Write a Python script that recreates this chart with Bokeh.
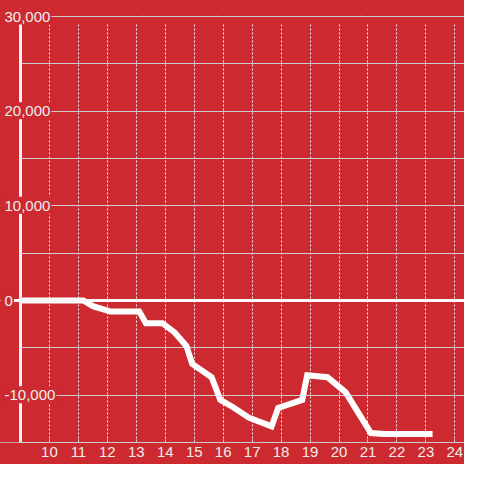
from bokeh.plotting import figure
from bokeh.models import FixedTicker, Grid, Span, Label, Range1d, BoxAnnotation
from bokeh.embed import file_html
from bokeh.resources import INLINE

# data
hours = [9.0, 11.17, 11.5, 12.1, 13.1, 13.33, 13.9, 14.33, 14.73, 14.93, 15.6, 15.9,
         16.33, 16.9, 17.67, 17.9, 18.73, 18.9, 19.6, 20.23, 21.1, 21.57, 23.23]
values = [0, 0, -600, -1150, -1150, -2400, -2400, -3400, -4800, -6700, -8100, -10500,
          -11250, -12400, -13300, -11350, -10500, -7900, -8100, -9700, -14000, -14100, -14100]
x_ticks = list(range(10, 25))
y_label_ticks = [30000, 20000, 10000, 0, -10000]
y_labels = ["30,000", "20,000", "10,000", "0", "-10,000"]
y_grid_ticks = [-15000, -10000, -5000, 0, 5000, 10000, 15000, 20000, 25000]
y_top_tick = 30000
x_min, x_max = 9, 24.333
y_min, y_max = -15000, 30000

RED = "#cc2a30"
FONT = "Liberation Sans"
TXT = "#eeeeee"
GRID = "#cccccc"

W, H = 464, 464
AXIS_PX = 20        # pixel position of the y axis inside the frame
TOP_PX = 8          # frame space above the 30,000 line
TOP_BORDER = 8
BOTTOM_BORDER = 22
FS = 15
frame_h = H - TOP_BORDER - BOTTOM_BORDER
sx = (W - AXIS_PX) / (x_max - x_min)
sy = (frame_h - TOP_PX) / (y_max - y_min)

p = figure(width=W, height=H, output_backend="svg", toolbar_location=None,
           y_axis_location=None,
           x_range=Range1d(x_min - AXIS_PX / sx, x_max),
           y_range=Range1d(y_min, y_max + TOP_PX / sy),
           min_border_left=0, min_border_right=0, min_border_top=TOP_BORDER,
           min_border_bottom=BOTTOM_BORDER)
p.background_fill_color = RED
p.border_fill_color = RED
p.outline_line_color = None
p.styles = {"background-color": RED}
p.grid.visible = False

# x axis
p.xaxis.ticker = FixedTicker(ticks=x_ticks)
p.xaxis.major_tick_out = 0
p.xaxis.major_tick_in = 3
p.xaxis.major_tick_line_color = GRID
p.xaxis.minor_tick_out = 0
p.xaxis.minor_tick_in = 0
p.xaxis.axis_line_color = GRID
p.xaxis.axis_line_width = 1
p.xaxis.major_label_standoff = 4
p.xaxis.major_label_text_font = FONT
p.xaxis.major_label_text_font_size = f"{FS}px"
p.xaxis.major_label_text_color = TXT

xg = Grid(dimension=0, ticker=FixedTicker(ticks=x_ticks),
          grid_line_color="#eeeeee", grid_line_dash="2 2", grid_line_width=1)
yg = Grid(dimension=1, ticker=FixedTicker(ticks=y_grid_ticks),
          grid_line_color=GRID, grid_line_width=1)
p.add_layout(xg)
p.add_layout(yg)

# mask left of the axis and the strip above the plot area
p.add_layout(BoxAnnotation(right=x_min, fill_color=RED, fill_alpha=1,
                           line_alpha=0, line_width=0))
p.add_layout(BoxAnnotation(bottom=y_max - 7 / sy, fill_color=RED, fill_alpha=1,
                           line_alpha=0, line_width=0))
p.add_layout(Span(location=y_top_tick, dimension="width", line_color=GRID, line_width=1))

# axis line and zero line
p.add_layout(Span(location=0, dimension="width", line_color="#f8f8f8", line_width=3))
p.add_layout(Span(location=x_min, dimension="height", line_color="#f4f4f4", line_width=3))

p.line(hours, values, line_color="white", line_width=6, line_join="miter")

# char advance widths (em) for Liberation Sans
CW = {"-": 0.333, ",": 0.278}
LX = 4
for v, t in zip(y_label_ticks, y_labels):
    w = sum(CW.get(c, 0.556) for c in t) * FS
    p.add_layout(BoxAnnotation(left=0, right=LX + w + 1,
                               left_units="screen", right_units="screen",
                               bottom=v - 8 / sy, top=v + 9 / sy,
                               fill_color=RED, fill_alpha=1, line_alpha=0, line_width=0))
    p.add_layout(Label(x=LX, y=v, x_units="screen", y_units="data", text=t,
                       text_align="left", text_baseline="middle",
                       text_font=FONT, text_font_size=f"{FS}px", text_color=TXT))

open("out.html", "w").write(file_html(p, INLINE))
